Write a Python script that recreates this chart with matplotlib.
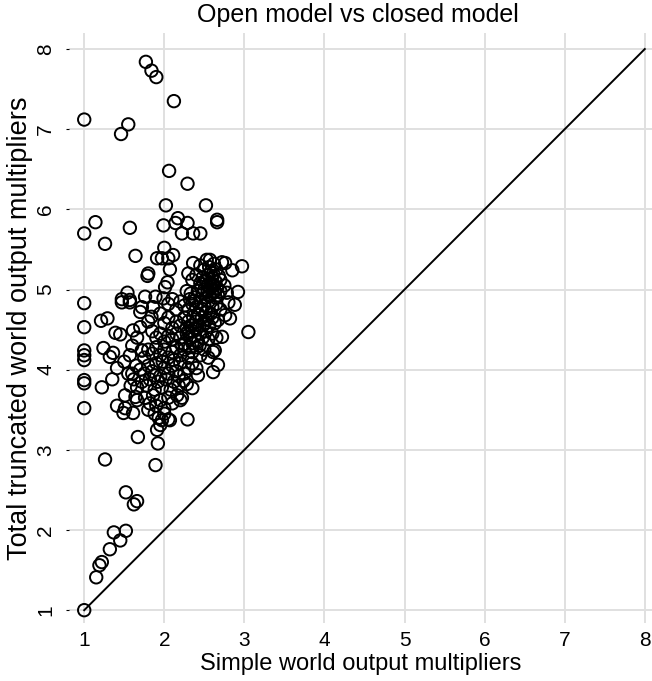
import matplotlib
matplotlib.use("Agg")
import matplotlib.pyplot as plt

# points, grouped by area of the plot
top_outliers = [(1.77, 7.84), (1.84, 7.73), (1.90, 7.65), (2.12, 7.35), (1.55, 7.06),
                (1.46, 6.94), (2.06, 6.48), (2.29, 6.32)]

x_one_column = [(1.0, 7.12), (1.0, 5.70), (1.0, 4.83), (1.0, 4.53), (1.0, 4.24), (1.0, 4.18),
                (1.0, 4.12), (1.0, 3.87), (1.0, 3.83), (1.0, 3.52), (1.0, 1.0)]

lower_tail = [(1.52, 2.47), (1.66, 2.36), (1.62, 2.32), (1.37, 1.97), (1.52, 1.99),
              (1.45, 1.87), (1.32, 1.76), (1.22, 1.60), (1.19, 1.56), (1.15, 1.41),
              (1.26, 2.88), (1.89, 2.81), (1.92, 3.08), (1.67, 3.16)]

upper_spread = [(2.02, 6.05), (2.52, 6.05), (1.14, 5.84), (1.57, 5.77), (1.99, 5.80),
                (2.14, 5.83), (2.17, 5.89), (2.29, 5.83), (2.22, 5.70), (2.36, 5.70),
                (2.45, 5.70), (2.66, 5.87), (2.66, 5.84), (1.26, 5.57), (1.64, 5.42),
                (2.00, 5.52), (1.91, 5.39), (1.97, 5.39), (2.05, 5.39), (2.11, 5.43),
                (2.07, 5.25), (1.80, 5.20), (1.79, 5.17), (2.04, 5.09), (2.01, 5.03)]

left_group = [(1.21, 4.61), (1.29, 4.64), (1.39, 4.46), (1.45, 4.44), (1.61, 4.49),
              (1.70, 4.53), (1.47, 4.84), (1.57, 4.84), (1.54, 4.96), (1.47, 4.88),
              (1.57, 4.87), (1.76, 4.91), (1.89, 4.91), (1.99, 4.89), (1.72, 4.78),
              (1.70, 4.72), (1.86, 4.78), (1.24, 4.27), (1.36, 4.21), (1.32, 4.16),
              (1.57, 4.18), (1.72, 4.24), (1.41, 4.02), (1.35, 3.88), (1.22, 3.78),
              (1.51, 3.68), (1.66, 3.62), (1.64, 3.66), (1.41, 3.55), (1.51, 3.52),
              (1.49, 3.46), (1.61, 3.46), (1.55, 3.95), (1.50, 4.10), (1.60, 4.30),
              (1.66, 4.40), (1.80, 4.60), (1.84, 4.66), (1.58, 3.80)]

core = [
    # y ~ 5.1 - 5.4
    (2.36, 5.33), (2.45, 5.30), (2.53, 5.37), (2.57, 5.37), (2.62, 5.32), (2.72, 5.34),
    (2.76, 5.33), (2.85, 5.24), (2.97, 5.29), (2.50, 5.25), (2.58, 5.22), (2.40, 5.18),
    (2.48, 5.15), (2.52, 5.12), (2.55, 5.18), (2.60, 5.15), (2.64, 5.10), (2.68, 5.17),
    (2.70, 5.12), (2.58, 5.08), (2.62, 5.05), (2.45, 5.08), (2.35, 5.12), (2.30, 5.20),
    (2.75, 5.05), (2.66, 5.02), (2.54, 5.05), (2.61, 5.20), (2.65, 5.25), (2.56, 5.28),
    # y ~ 4.9 - 5.05
    (2.50, 5.00), (2.54, 4.97), (2.58, 5.02), (2.60, 4.95), (2.63, 4.98), (2.67, 4.93),
    (2.70, 4.98), (2.56, 4.92), (2.48, 4.95), (2.42, 4.98), (2.38, 4.90), (2.33, 4.95),
    (2.92, 4.97), (2.78, 4.96), (2.52, 4.90), (2.64, 4.90), (2.46, 5.03), (2.28, 4.98),
    # y ~ 4.7 - 4.9
    (2.20, 4.85), (2.25, 4.80), (2.30, 4.75), (2.35, 4.82), (2.40, 4.78), (2.45, 4.85),
    (2.50, 4.80), (2.55, 4.85), (2.60, 4.78), (2.65, 4.82), (2.70, 4.75), (2.80, 4.84),
    (2.88, 4.81), (2.42, 4.70), (2.52, 4.72), (2.58, 4.70), (2.15, 4.75), (2.10, 4.88),
    (2.05, 4.82), (2.38, 4.86), (2.47, 4.76), (2.32, 4.88),
    # y ~ 4.5 - 4.7
    (2.25, 4.65), (2.30, 4.60), (2.33, 4.55), (2.36, 4.66), (2.40, 4.60), (2.44, 4.55),
    (2.47, 4.65), (2.50, 4.58), (2.53, 4.62), (2.56, 4.55), (2.60, 4.65), (2.63, 4.58),
    (2.67, 4.62), (2.76, 4.68), (2.82, 4.64), (2.20, 4.55), (2.15, 4.60), (2.10, 4.52),
    (2.05, 4.65), (2.00, 4.58), (1.95, 4.70), (2.38, 4.52), (2.43, 4.68), (2.28, 4.52),
    # y ~ 4.3 - 4.5
    (2.28, 4.45), (2.32, 4.40), (2.35, 4.48), (2.38, 4.42), (2.42, 4.35), (2.45, 4.45),
    (2.48, 4.40), (2.52, 4.48), (2.55, 4.38), (2.60, 4.45), (2.65, 4.40), (2.72, 4.41),
    (3.05, 4.47), (2.20, 4.40), (2.15, 4.45), (2.10, 4.38), (2.05, 4.42), (2.00, 4.35),
    (1.95, 4.45), (1.90, 4.40), (1.85, 4.48), (2.25, 4.32), (2.40, 4.50), (2.35, 4.33),
    (2.44, 4.30), (2.30, 4.48),
    # y ~ 4.1 - 4.3
    (1.80, 4.25), (1.85, 4.20), (1.90, 4.28), (1.95, 4.18), (2.00, 4.25), (2.05, 4.15),
    (2.10, 4.22), (2.15, 4.28), (2.20, 4.18), (2.25, 4.25), (2.30, 4.15), (2.35, 4.22),
    (2.40, 4.28), (2.45, 4.18), (2.50, 4.25), (2.55, 4.15), (2.63, 4.24), (2.61, 4.22),
    (1.75, 4.15), (1.72, 4.24), (2.12, 4.12), (2.22, 4.30), (2.32, 4.28), (1.98, 4.10),
    # y ~ 3.9 - 4.1
    (1.70, 4.00), (1.75, 3.95), (1.80, 4.05), (1.85, 3.98), (1.90, 4.08), (1.95, 3.92),
    (2.00, 4.02), (2.05, 3.95), (2.10, 4.05), (2.15, 3.98), (2.20, 4.08), (2.25, 3.95),
    (2.30, 4.02), (2.35, 4.08), (2.42, 3.93), (2.67, 4.06), (2.61, 3.97), (1.65, 4.05),
    (1.60, 3.95), (2.40, 4.02), (1.88, 3.93), (2.18, 3.92),
    # y ~ 3.7 - 3.9
    (1.72, 3.85), (1.78, 3.80), (1.82, 3.88), (1.88, 3.75), (1.92, 3.85), (1.97, 3.78),
    (2.02, 3.88), (2.08, 3.75), (2.12, 3.85), (2.18, 3.80), (2.24, 3.86), (2.35, 3.77),
    (1.66, 3.78), (1.62, 3.88), (2.28, 3.82),
    # y ~ 3.5 - 3.7
    (1.76, 3.65), (1.82, 3.58), (1.86, 3.68), (1.90, 3.55), (1.95, 3.62), (2.00, 3.52),
    (2.05, 3.65), (2.10, 3.58), (2.16, 3.68), (2.20, 3.62), (2.22, 3.65), (1.80, 3.50),
    # y ~ 3.2 - 3.5
    (1.88, 3.45), (1.93, 3.40), (1.97, 3.37), (2.05, 3.38), (1.91, 3.25), (1.95, 3.31),
    (2.07, 3.37), (2.29, 3.38), (2.00, 3.45),
]

points = top_outliers + x_one_column + lower_tail + upper_spread + left_group + core
simple_mult = [p[0] for p in points]
total_mult = [p[1] for p in points]

ticks = [1, 2, 3, 4, 5, 6, 7, 8]

plt.rcParams['font.family'] = ['Liberation Sans', 'DejaVu Sans']

fig = plt.figure(figsize=(6.52, 6.81), dpi=100)
ax = fig.add_axes([69 / 652, 58 / 681, 583 / 652, 590 / 681])

# 45 degree reference line
ax.plot([1, 8], [1, 8], color='black', linewidth=1.4, zorder=2)
ax.scatter(simple_mult, total_mult, s=80, facecolors='none', edgecolors='black',
           linewidths=1.4, zorder=3)

ax.set_xlim(0.81, 8.09)
ax.set_ylim(0.84, 8.2)
ax.set_xticks(ticks)
ax.set_yticks(ticks)
ax.grid(True, color='#e0e0e0', linewidth=1.4)
ax.set_axisbelow(True)
for s in ax.spines.values():
    s.set_visible(False)

ax.tick_params(axis='x', length=0, pad=6, labelsize=15)
ax.tick_params(axis='y', length=2, width=0.8, pad=8, labelsize=15)
for lab in ax.get_yticklabels():
    lab.set_rotation(90)
    lab.set_va('center')

ax.set_xlabel('Simple world output multipliers', fontsize=17, labelpad=2)
ax.set_ylabel('Total truncated world output multipliers', fontsize=19.5, labelpad=2)
fig.text(358 / 652, 1 - 15 / 681, 'Open model vs closed model', ha='center',
         va='center', fontsize=18)

fig.savefig('out.png', dpi=100)
